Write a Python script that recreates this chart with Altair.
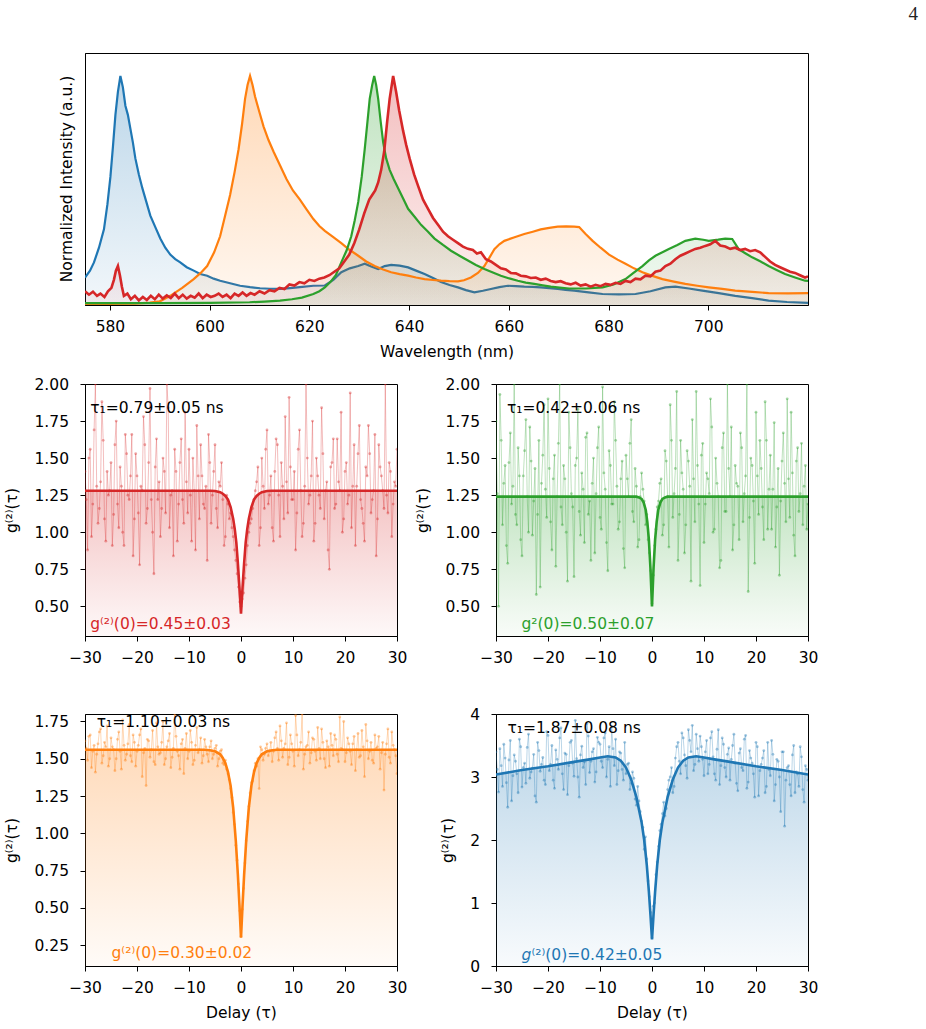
import altair as alt
import pandas as pd

FONT = "DejaVu Sans"
FS = 15.5
BLUE, ORANGE, GREEN, RED = "#1f77b4", "#ff7f0e", "#2ca02c", "#d62728"

# ---------------- emission spectra: (wavelength nm, normalized intensity) ----------------
blue_spec = [
    (575.0, 0.12), (576.0, 0.15), (576.8, 0.186), (577.8, 0.25), (578.8, 0.33), (579.5, 0.44),
    (580.1, 0.56), (580.6, 0.69), (581.1, 0.83), (581.6, 0.93), (582.1, 1.0), (582.6, 0.95),
    (583.1, 0.87), (583.6, 0.83), (584.1, 0.77), (584.6, 0.71), (585.1, 0.64), (585.8, 0.57),
    (586.5, 0.51), (587.3, 0.45), (588.1, 0.39), (589.1, 0.34), (590.1, 0.29), (591.1, 0.25),
    (592.1, 0.22), (593.1, 0.20), (594.1, 0.186), (595.4, 0.165), (596.8, 0.15), (598.1, 0.135),
    (599.5, 0.128), (600.8, 0.115), (602.1, 0.106), (604.1, 0.095), (606.1, 0.084), (608.1, 0.078),
    (610.1, 0.073), (612.1, 0.071), (614.1, 0.07), (616.1, 0.074), (618.1, 0.078), (620.8, 0.084),
    (623.1, 0.085), (624.8, 0.11), (626.4, 0.143), (628.1, 0.16), (629.8, 0.17), (631.1, 0.18),
    (632.4, 0.168), (633.8, 0.157), (635.1, 0.17), (636.4, 0.175), (638.1, 0.172), (639.8, 0.164),
    (641.4, 0.15), (643.1, 0.135), (644.8, 0.118), (646.4, 0.10), (648.1, 0.087), (649.8, 0.077),
    (651.4, 0.065), (653.1, 0.055), (654.8, 0.062), (656.4, 0.07), (658.1, 0.078), (659.8, 0.084),
    (661.4, 0.082), (663.1, 0.08), (664.8, 0.079), (666.4, 0.077), (668.1, 0.074), (669.8, 0.07),
    (671.4, 0.066), (673.1, 0.063), (676.0, 0.055), (678.8, 0.048), (682.1, 0.046), (685.4, 0.048),
    (688.4, 0.06), (691.4, 0.077), (693.4, 0.08), (696.1, 0.072), (698.8, 0.063), (702.1, 0.052),
    (705.4, 0.04), (708.8, 0.03), (712.1, 0.019), (715.8, 0.013), (720.0, 0.009),
]

orange_spec = [
    (575.0, 0.005), (580.0, 0.005), (585.0, 0.006), (588.0, 0.01), (590.0, 0.016), (592.1, 0.04),
    (594.5, 0.075), (596.8, 0.113), (598.2, 0.14), (599.5, 0.17), (600.9, 0.23), (602.1, 0.30),
    (603.1, 0.39), (604.1, 0.48), (605.0, 0.58), (605.8, 0.68), (606.5, 0.79), (607.1, 0.90),
    (607.6, 0.96), (608.1, 1.0), (608.6, 0.96), (609.1, 0.91), (610.0, 0.84), (610.8, 0.78),
    (611.8, 0.72), (612.8, 0.67), (614.1, 0.61), (615.4, 0.55), (616.7, 0.50), (618.1, 0.46),
    (619.5, 0.415), (620.8, 0.375), (622.0, 0.345), (623.1, 0.324), (624.6, 0.30), (626.4, 0.27),
    (628.1, 0.24), (629.8, 0.215), (631.4, 0.19), (633.1, 0.17), (634.8, 0.155), (636.4, 0.143),
    (638.1, 0.135), (639.8, 0.128), (641.4, 0.12), (643.1, 0.113), (644.8, 0.109), (646.4, 0.106),
    (648.1, 0.104), (649.8, 0.103), (651.0, 0.108), (652.4, 0.12), (653.8, 0.14), (655.1, 0.17),
    (656.2, 0.21), (657.1, 0.244), (658.1, 0.265), (659.1, 0.28), (661.0, 0.295), (663.1, 0.31),
    (664.8, 0.32), (666.4, 0.33), (668.1, 0.337), (669.8, 0.342), (671.5, 0.343), (673.1, 0.342),
    (674.1, 0.34), (675.4, 0.31), (676.8, 0.28), (678.4, 0.25), (680.1, 0.22), (681.8, 0.198),
    (683.4, 0.18), (685.1, 0.16), (686.8, 0.143), (688.8, 0.127), (690.8, 0.113), (693.1, 0.102),
    (695.4, 0.092), (697.8, 0.084), (700.1, 0.077), (702.8, 0.07), (705.4, 0.063), (708.8, 0.057),
    (712.1, 0.052), (716.0, 0.051), (720.0, 0.052),
]

green_spec = [
    (575.0, 0.008), (590.0, 0.008), (600.0, 0.009), (608.0, 0.012), (611.0, 0.015), (614.1, 0.019),
    (616.5, 0.025), (618.5, 0.032), (620.8, 0.048), (622.0, 0.06), (623.1, 0.077), (624.2, 0.10),
    (625.3, 0.13), (626.4, 0.186), (627.5, 0.24), (628.4, 0.30), (629.1, 0.37), (629.8, 0.45),
    (630.5, 0.56), (631.1, 0.68), (631.6, 0.79), (632.1, 0.90), (632.6, 0.96), (633.0, 1.0),
    (633.4, 0.96), (633.8, 0.90), (634.3, 0.80), (634.8, 0.71), (635.4, 0.64), (636.1, 0.59),
    (636.9, 0.55), (637.8, 0.51), (638.8, 0.465), (639.8, 0.42), (641.1, 0.385), (642.4, 0.35),
    (643.8, 0.32), (645.1, 0.29), (646.8, 0.262), (648.4, 0.237), (650.1, 0.215), (651.8, 0.194),
    (653.4, 0.175), (655.1, 0.157), (656.8, 0.142), (658.4, 0.128), (660.1, 0.116), (661.8, 0.106),
    (663.4, 0.098), (665.1, 0.092), (666.8, 0.086), (668.4, 0.08), (670.2, 0.076), (672.1, 0.072),
    (675.5, 0.072), (678.8, 0.077), (681.0, 0.09), (683.4, 0.113), (685.0, 0.14), (686.8, 0.17),
    (688.1, 0.195), (689.4, 0.215), (690.8, 0.23), (692.1, 0.244), (693.8, 0.262), (695.4, 0.28),
    (697.4, 0.29), (699.0, 0.285), (700.1, 0.28), (702.0, 0.285), (703.4, 0.29), (704.8, 0.288),
    (706.1, 0.244), (707.5, 0.225), (708.8, 0.208), (710.5, 0.19), (712.1, 0.17), (713.8, 0.152),
    (715.4, 0.135), (717.4, 0.12), (719.4, 0.106), (720.0, 0.105),
]

red_spec = [
    (575.0, 0.06), (575.8, 0.045), (576.6, 0.058), (577.4, 0.04), (578.1, 0.05), (578.9, 0.035),
    (579.6, 0.06), (580.3, 0.075), (580.8, 0.11), (581.2, 0.15), (581.6, 0.17), (582.0, 0.13),
    (582.4, 0.08), (582.8, 0.04), (583.5, 0.05), (584.2, 0.025), (585.0, 0.04), (585.8, 0.02),
    (586.6, 0.035), (587.4, 0.022), (588.2, 0.04), (589.0, 0.025), (589.8, 0.045), (590.6, 0.028),
    (591.4, 0.042), (592.2, 0.03), (593.0, 0.05), (593.8, 0.03), (594.6, 0.045), (595.4, 0.028),
    (596.2, 0.04), (597.0, 0.032), (597.8, 0.05), (598.6, 0.03), (599.4, 0.045), (600.2, 0.035),
    (601.0, 0.04), (601.8, 0.05), (602.6, 0.035), (603.4, 0.045), (604.2, 0.03), (605.0, 0.05),
    (605.8, 0.04), (606.6, 0.055), (607.4, 0.04), (608.2, 0.052), (609.0, 0.045), (610.0, 0.06),
    (611.0, 0.05), (612.0, 0.065), (613.0, 0.06), (614.0, 0.075), (615.0, 0.07), (616.0, 0.09),
    (617.0, 0.085), (618.0, 0.10), (619.0, 0.095), (620.0, 0.11), (621.0, 0.105), (622.0, 0.115),
    (623.0, 0.12), (624.0, 0.13), (625.0, 0.145), (626.0, 0.16), (627.0, 0.19), (628.0, 0.22),
    (629.0, 0.27), (630.0, 0.33), (631.0, 0.40), (632.0, 0.46), (632.6, 0.48), (633.2, 0.50),
    (633.8, 0.535), (634.4, 0.59), (635.0, 0.67), (635.6, 0.80), (636.1, 0.90), (636.8, 1.0),
    (637.4, 0.93), (638.0, 0.85), (638.8, 0.76), (639.4, 0.70), (640.1, 0.64), (641.0, 0.57),
    (641.8, 0.52), (642.8, 0.46), (643.8, 0.42), (644.8, 0.38), (645.8, 0.35), (646.8, 0.32),
    (647.8, 0.30), (648.8, 0.285), (649.8, 0.27), (650.8, 0.255), (651.8, 0.245), (652.8, 0.24),
    (653.6, 0.225), (654.4, 0.23), (655.4, 0.20), (656.4, 0.19), (657.4, 0.175), (658.4, 0.16),
    (659.4, 0.155), (660.4, 0.14), (661.4, 0.138), (662.4, 0.128), (663.4, 0.125), (664.4, 0.118),
    (665.4, 0.12), (666.4, 0.11), (667.4, 0.115), (668.4, 0.105), (669.4, 0.10), (670.4, 0.104),
    (671.4, 0.095), (672.4, 0.09), (673.4, 0.097), (674.4, 0.085), (675.4, 0.09), (676.4, 0.08),
    (677.4, 0.088), (678.4, 0.082), (679.4, 0.092), (680.4, 0.088), (681.4, 0.097), (682.4, 0.092),
    (683.4, 0.105), (684.4, 0.10), (685.4, 0.115), (686.4, 0.112), (687.4, 0.128), (688.4, 0.125),
    (689.4, 0.145), (690.4, 0.15), (691.4, 0.17), (692.4, 0.18), (693.4, 0.20), (694.4, 0.215),
    (695.4, 0.225), (696.4, 0.235), (697.4, 0.245), (698.4, 0.25), (699.4, 0.258), (700.4, 0.265),
    (701.4, 0.28), (702.4, 0.26), (703.4, 0.255), (704.4, 0.245), (705.4, 0.25), (706.4, 0.24),
    (707.4, 0.245), (708.4, 0.235), (709.4, 0.24), (710.4, 0.23), (711.4, 0.21), (712.4, 0.19),
    (713.4, 0.175), (714.4, 0.165), (715.4, 0.155), (716.4, 0.145), (717.4, 0.14), (718.4, 0.13),
    (719.4, 0.12), (720.0, 0.125),
]

# ---------------- second-order correlation histograms ----------------
# bins on the half-nanosecond grid (-30 .. 30) and the bins in between (-29.75 .. 29.75)
DELAY_A = [i * 0.5 - 30 for i in range(121)]
DELAY_B = [i * 0.5 - 29.75 for i in range(120)]

red_g2_a = [
    1.41, 0.88, 1.56, 1.19, 2.00, 1.06, 1.34, 1.62, 0.94, 1.25,
    1.47, 1.12, 1.75, 1.03, 1.31, 0.91, 1.53, 1.22, 1.66, 1.09,
    1.38, 0.78, 1.28, 1.59, 1.16, 1.97, 1.00, 1.44, 1.22, 0.97,
    1.50, 1.13, 1.84, 1.25, 0.84, 1.41, 1.19, 1.63, 1.06, 1.34,
    1.56, 0.94, 1.28, 1.72, 1.09, 1.38, 1.16, 0.81, 1.47, 1.25,
    1.59, 1.03, 1.31, 1.22, 0.97, 1.19, 1.13, 0.97, 0.81, 0.63,
    0.50,
    0.59, 0.78, 1.00, 1.09, 1.22, 1.34, 0.91, 1.50, 1.16, 1.69,
    1.25, 1.03, 1.41, 1.59, 0.97, 1.31, 1.78, 1.13, 1.44, 1.22,
    0.88, 1.56, 1.28, 1.06, 2.00, 1.19, 1.38, 0.94, 1.50, 1.25,
    1.84, 1.09, 1.34, 0.75, 1.47, 1.16, 1.63, 1.28, 1.00, 1.41,
    1.19, 1.94, 1.31, 0.91, 1.53, 1.22, 1.06, 1.44, 1.72, 1.13,
    1.28, 0.84, 1.59, 1.38, 1.16, 1.25, 1.47, 0.97, 1.34, 1.56,
]
red_g2_b = [
    1.22, 1.50, 0.97, 1.69, 1.31, 1.16, 1.88, 1.09, 1.41, 1.28,
    0.91, 1.59, 1.19, 1.44, 1.00, 1.66, 1.25, 1.38, 0.84, 1.53,
    1.13, 1.31, 1.78, 1.06, 1.47, 1.22, 0.72, 1.63, 1.34, 1.16,
    1.41, 2.00, 1.03, 1.28, 1.56, 0.94, 1.47, 1.22, 1.81, 1.13,
    1.25, 1.50, 0.88, 1.38, 1.59, 1.19, 1.31, 1.66, 1.06, 1.41,
    1.16, 1.34, 1.47, 0.91, 1.25, 1.09, 1.03, 0.88, 0.72, 0.53,
    0.55, 0.69, 0.91, 1.06, 1.16, 1.28, 1.44, 1.03, 1.31, 1.56,
    1.19, 1.38, 0.94, 1.63, 1.25, 1.47, 1.09, 1.34, 1.91, 1.22,
    1.41, 1.13, 1.69, 0.97, 1.31, 1.50, 1.25, 1.75, 1.06, 1.38,
    1.16, 1.53, 1.28, 0.88, 1.44, 1.63, 1.19, 1.34, 1.81, 1.09,
    1.47, 1.25, 1.03, 1.59, 1.31, 1.72, 1.16, 0.94, 1.38, 1.53,
    1.22, 1.66, 1.09, 1.44, 1.28, 2.00, 1.13, 1.41, 1.19, 1.31,
]
green_g2_a = [
    1.75, 0.50, 1.62, 1.33, 0.91, 1.47, 1.19, 2.00, 1.05, 1.38,
    0.84, 1.55, 1.24, 1.71, 0.98, 1.43, 1.12, 0.63, 1.52, 1.29,
    1.90, 1.07, 1.36, 0.77, 1.60, 1.17, 1.45, 1.00, 1.81, 1.26,
    0.70, 1.50, 1.14, 1.40, 0.93, 1.67, 1.21, 1.33, 0.86, 1.57,
    1.10, 1.98, 1.29, 0.74, 1.45, 1.19, 1.62, 1.02, 1.36, 0.89,
    1.52, 1.24, 1.76, 1.07, 1.31, 0.95, 1.40, 1.21, 1.12, 0.86,
    0.52,
    0.91, 1.17, 1.33, 0.98, 1.55, 1.24, 1.86, 1.10, 1.43, 0.81,
    1.62, 1.29, 1.05, 1.48, 0.67, 1.36, 1.95, 1.19, 1.52, 0.93,
    1.40, 1.26, 1.71, 1.02, 1.33, 0.76, 1.57, 1.14, 2.00, 1.24,
    0.88, 1.45, 1.31, 1.67, 1.07, 1.38, 0.60, 1.50, 1.21, 1.81,
    1.12, 1.43, 0.95, 1.62, 1.29, 1.02, 1.74, 1.17, 0.71, 1.48,
    1.33, 1.90, 1.10, 1.40, 0.84, 1.57, 1.26, 1.05, 1.45, 1.19,
]
green_g2_b = [
    1.26, 1.93, 1.05, 1.45, 0.79, 1.67, 1.31, 1.12, 1.57, 0.95,
    1.38, 1.76, 1.00, 1.48, 1.21, 0.58, 1.62, 1.33, 1.86, 1.10,
    1.43, 0.88, 1.52, 1.24, 2.00, 1.05, 1.36, 0.67, 1.57, 1.17,
    1.45, 1.83, 0.98, 1.29, 1.64, 1.12, 0.81, 1.50, 1.26, 1.71,
    1.02, 1.40, 0.93, 1.55, 1.19, 1.88, 1.31, 1.07, 1.48, 0.76,
    1.36, 1.60, 1.14, 1.43, 0.90, 1.24, 1.29, 1.05, 0.95, 0.74,
    0.71, 1.02, 1.21, 1.36, 1.05, 1.48, 0.90, 1.62, 1.26, 1.95,
    1.12, 1.40, 0.86, 1.55, 1.31, 1.76, 1.07, 1.45, 0.64, 1.60,
    1.19, 1.36, 1.90, 1.00, 1.50, 1.24, 0.81, 1.67, 1.14, 1.43,
    1.71, 1.05, 1.33, 0.95, 1.57, 1.26, 2.00, 1.10, 1.45, 0.79,
    1.38, 1.62, 1.17, 1.88, 1.02, 1.52, 1.29, 0.90, 1.43, 1.21,
    1.67, 1.07, 1.36, 1.81, 0.98, 1.48, 1.14, 1.60, 1.31, 1.02,
]
orange_g2_a = [
    1.62, 1.49, 1.66, 1.55, 1.41, 1.60, 1.70, 1.52, 1.58, 1.45,
    1.64, 1.56, 1.50, 1.68, 1.43, 1.59, 1.53, 1.73, 1.48, 1.61,
    1.55, 1.66, 1.38, 1.57, 1.63, 1.51, 1.69, 1.46, 1.58, 1.54,
    1.75, 1.50, 1.62, 1.44, 1.57, 1.65, 1.52, 1.60, 1.40, 1.67,
    1.55, 1.61, 1.49, 1.71, 1.56, 1.47, 1.63, 1.53,
    1.58, 1.50, 1.57, 1.45, 1.55, 1.47, 1.49, 1.40, 1.30, 1.14, 0.92, 0.66,
    0.31,
    0.63, 0.95, 1.18, 1.34, 1.42, 1.45, 1.30, 1.56, 1.53, 1.60, 1.55, 1.48,
    1.64, 1.57, 1.72, 1.51, 1.60, 1.46, 1.66, 1.55, 1.79, 1.52,
    1.61, 1.43, 1.58, 1.68, 1.54, 1.63, 1.49, 1.57, 1.70, 1.50,
    1.62, 1.45, 1.59, 1.66, 1.53, 1.78, 1.56, 1.48, 1.64, 1.55,
    1.60, 1.42, 1.67, 1.52, 1.58, 1.73, 1.50, 1.61, 1.47, 1.57,
    1.65, 1.54, 1.29, 1.60, 1.51, 1.68, 1.56, 1.40,
]
orange_g2_b = [
    1.57, 1.65, 1.44, 1.59, 1.53, 1.68, 1.47, 1.61, 1.72, 1.50,
    1.58, 1.42, 1.63, 1.55, 1.76, 1.49, 1.60, 1.52, 1.66, 1.45,
    1.59, 1.70, 1.54, 1.32, 1.62, 1.56, 1.48, 1.74, 1.53, 1.61,
    1.46, 1.58, 1.67, 1.51, 1.80, 1.55, 1.43, 1.63, 1.57, 1.50,
    1.69, 1.46, 1.59, 1.54, 1.64, 1.52, 1.58, 1.48,
    1.62, 1.53, 1.59, 1.50, 1.56, 1.46, 1.43, 1.36, 1.24, 1.06, 0.82, 0.48,
    0.49, 0.80, 1.08, 1.27, 1.35, 1.47, 1.50, 1.58, 1.49, 1.57, 1.52, 1.61,
    1.55, 1.68, 1.49, 1.62, 1.57, 1.74, 1.51, 1.60, 1.45, 1.66,
    1.56, 1.80, 1.53, 1.59, 1.47, 1.64, 1.55, 1.71, 1.50, 1.61,
    1.44, 1.58, 1.67, 1.52, 1.63, 1.48, 1.57, 1.75, 1.54, 1.60,
    1.46, 1.65, 1.56, 1.51, 1.69, 1.38, 1.62, 1.55, 1.49, 1.66,
    1.58, 1.43, 1.61, 1.53, 1.70, 1.47, 1.59, 1.52,
]
blue_g2_a = [
    3.40, 2.76, 3.18, 3.52, 2.91, 3.27, 2.62, 3.35, 3.05, 3.60,
    2.84, 3.22, 3.47, 2.98, 3.14, 2.70, 3.55, 3.09, 3.31, 2.88,
    3.66, 3.20, 2.95, 3.43, 3.12, 3.78, 2.80, 3.36, 3.18, 3.58,
    3.01, 3.29, 2.68, 3.49, 3.24, 3.85, 3.07, 3.40, 2.92, 3.63,
    3.52, 3.15, 3.70, 3.28, 2.85, 3.45, 3.60, 3.10, 3.38, 2.95,
    3.05, 3.22, 2.90, 2.98, 2.55, 2.62, 2.30, 1.85, 1.70, 1.10,
    0.45,
    1.00, 1.65, 2.15, 2.42, 2.38, 2.80, 3.00, 2.75, 3.30, 3.55,
    3.05, 3.62, 3.18, 3.75, 3.40, 3.10, 3.68, 3.25, 3.48, 3.02,
    3.58, 3.20, 3.72, 3.05, 3.44, 2.88, 3.62, 3.15, 3.36, 2.95,
    3.50, 3.22, 2.78, 3.45, 3.10, 3.66, 2.92, 3.30, 3.05, 3.55,
    2.70, 3.20, 3.42, 2.85, 3.12, 3.58, 2.62, 3.28, 3.00, 3.40,
    2.22, 3.15, 2.88, 3.35, 2.75, 3.05, 3.48, 2.80, 3.18, 2.95,
]
blue_g2_b = [
    3.12, 3.45, 2.85, 3.30, 2.52, 3.58, 3.02, 3.25, 2.75, 3.48,
    3.15, 2.90, 3.68, 3.08, 3.36, 2.60, 3.42, 3.20, 2.95, 3.72,
    3.10, 3.50, 2.82, 3.28, 3.62, 3.05, 3.38, 2.72, 3.55, 3.22,
    3.90, 3.00, 3.35, 3.15, 2.88, 3.65, 3.25, 3.45, 3.08, 3.55,
    3.25, 3.62, 3.00, 3.48, 3.80, 3.18, 2.88, 3.40, 3.12, 3.55,
    3.20, 2.80, 3.08, 2.65, 2.85, 2.45, 2.20, 2.05, 1.35, 0.85,
    0.95, 1.45, 1.90, 2.25, 2.60, 2.50, 2.95, 3.15, 2.85, 3.48,
    3.25, 3.70, 3.35, 2.98, 3.58, 3.82, 3.20, 3.45, 3.65, 3.28,
    3.40, 3.05, 3.62, 3.32, 2.95, 3.75, 3.18, 3.52, 3.00, 3.46,
    3.28, 3.68, 2.90, 3.38, 3.15, 3.60, 2.82, 3.42, 3.22, 2.68,
    3.48, 3.10, 3.30, 2.75, 3.55, 3.02, 3.36, 2.88, 3.25, 2.45,
    3.40, 2.95, 3.18, 2.70, 3.50, 3.08, 2.85, 3.32, 2.60, 3.12,
]

# fitted antibunching curves: (delay, g2)
red_fit = [
    (-30, 1.28), (-6, 1.28), (-5, 1.278), (-4, 1.27), (-3.5, 1.26), (-3, 1.245), (-2.5, 1.22),
    (-2, 1.17), (-1.5, 1.09), (-1.2, 1.02), (-0.9, 0.93), (-0.6, 0.79), (-0.3, 0.63), (0, 0.45),
    (0.3, 0.63), (0.6, 0.79), (0.9, 0.93), (1.2, 1.02), (1.5, 1.09), (2, 1.17), (2.5, 1.22),
    (3, 1.245), (3.5, 1.26), (4, 1.27), (5, 1.278), (6, 1.28), (30, 1.28),
]
green_fit = [
    (-30, 1.24), (-3, 1.24), (-2.5, 1.235), (-2, 1.225), (-1.6, 1.20), (-1.2, 1.15), (-0.9, 1.07),
    (-0.6, 0.95), (-0.3, 0.76), (0, 0.50), (0.3, 0.76), (0.6, 0.95), (0.9, 1.07), (1.2, 1.15),
    (1.6, 1.20), (2, 1.225), (2.5, 1.235), (3, 1.24), (30, 1.24),
]
orange_fit = [
    (-30, 1.56), (-7, 1.56), (-6, 1.557), (-5, 1.55), (-4, 1.53), (-3.5, 1.505), (-3, 1.47),
    (-2.5, 1.41), (-2, 1.32), (-1.5, 1.17), (-1, 0.95), (-0.6, 0.72), (-0.3, 0.52), (0, 0.30),
    (0.3, 0.52), (0.6, 0.72), (1, 0.95), (1.5, 1.17), (2, 1.32), (2.5, 1.41), (3, 1.47),
    (3.5, 1.505), (4, 1.53), (5, 1.55), (6, 1.557), (7, 1.56), (30, 1.56),
]
blue_fit = [
    (-30, 3.04), (-25, 3.11), (-20, 3.17), (-15, 3.24), (-12, 3.28), (-10, 3.31), (-8.5, 3.33),
    (-7, 3.31), (-6, 3.26), (-5, 3.15), (-4, 2.96), (-3, 2.68), (-2, 2.28), (-1.5, 2.00),
    (-1, 1.60), (-0.6, 1.18), (-0.3, 0.82), (0, 0.42), (0.3, 0.82), (0.6, 1.18), (1, 1.60),
    (1.5, 2.00), (2, 2.28), (3, 2.68), (4, 2.96), (5, 3.15), (6, 3.26), (7, 3.31), (8.5, 3.33),
    (10, 3.31), (12, 3.28), (15, 3.24), (20, 3.17), (25, 3.11), (30, 3.04),
]

for a, b in [(red_g2_a, red_g2_b), (green_g2_a, green_g2_b),
             (orange_g2_a, orange_g2_b), (blue_g2_a, blue_g2_b)]:
    assert len(a) == len(DELAY_A) and len(b) == len(DELAY_B), (len(a), len(b))

G2_TITLE = "g⁽²⁾(τ)"


def rgba(hexc, a):
    h = hexc.lstrip("#")
    return f"rgba({int(h[0:2], 16)},{int(h[2:4], 16)},{int(h[4:6], 16)},{a})"


def vgrad(hexc, top, bottom):
    return alt.Gradient(
        gradient="linear", x1=0, x2=0, y1=0, y2=1,
        stops=[alt.GradientStop(color=rgba(hexc, top), offset=0),
               alt.GradientStop(color=rgba(hexc, bottom), offset=1)],
    )


# ---------------- spectra panel ----------------
wl_x = alt.X("wl:Q", scale=alt.Scale(domain=[575, 720], nice=False, zero=False, padding=0),
             axis=alt.Axis(values=[580, 600, 620, 640, 660, 680, 700], format="d",
                           title="Wavelength (nm)"))
# the y axis reserves the same room as the g2 panels' axes (kept invisible) so
# that all left plot edges line up; the visible title is drawn as text
int_y = alt.Y("I:Q", scale=alt.Scale(domain=[0, 1.1], nice=False, zero=False, padding=0),
              axis=alt.Axis(values=[0.5], labelExpr="'2.00'", labelOpacity=0, tickOpacity=0,
                            title=G2_TITLE, titleOpacity=0))


def spec_df(pairs):
    return pd.DataFrame(pairs, columns=["wl", "I"])


def spec_area(pairs, color):
    return alt.Chart(spec_df(pairs)).mark_area(color=vgrad(color, 0.3, 0.06), clip=True).encode(x=wl_x, y=int_y)


def spec_line(pairs, color, width=2.2):
    return alt.Chart(spec_df(pairs)).mark_line(color=color, strokeWidth=width, clip=True).encode(x=wl_x, y=int_y)


page_no = alt.Chart(pd.DataFrame({"s": ["4"]})).mark_text(
    font="Liberation Serif", fontSize=19, align="right", baseline="middle", color="#222222"
).encode(text="s:N", x=alt.value(833), y=alt.value(-39))

int_title = alt.Chart(pd.DataFrame({"s": ["Normalized Intensity (a.u.)"]})).mark_text(
    fontSize=FS, angle=270, align="center", baseline="middle", color="black"
).encode(text="s:N", x=alt.value(-18), y=alt.value(126))

spectra = alt.layer(
    spec_area(blue_spec, BLUE), spec_line(blue_spec, BLUE),
    spec_area(orange_spec, ORANGE), spec_area(green_spec, GREEN), spec_area(red_spec, RED),
    spec_line(orange_spec, ORANGE), spec_line(green_spec, GREEN), spec_line(red_spec, RED, 2.6),
    page_no, int_title,
).properties(width=723, height=252)


# ---------------- g2 panels ----------------
def g2_panel(vals_a, vals_b, fit_pts, color, ydom, yticks, yfmt, tau_lbl, tau_xy, g_lbl, g_xy,
             xtitle, italic_g=False):
    data = pd.concat([pd.DataFrame({"t": DELAY_A, "g": vals_a}),
                      pd.DataFrame({"t": DELAY_B, "g": vals_b})]).sort_values("t")
    fit = pd.DataFrame(fit_pts, columns=["t", "g"])
    xenc = alt.X("t:Q", scale=alt.Scale(domain=[-30, 30], nice=False, zero=False, padding=0),
                 axis=alt.Axis(values=[-30, -20, -10, 0, 10, 20, 30], format="d", title=xtitle))
    yenc = alt.Y("g:Q", scale=alt.Scale(domain=ydom, nice=False, zero=False, padding=0),
                 axis=alt.Axis(values=yticks, format=yfmt, title=G2_TITLE))
    fill = alt.Chart(fit).mark_area(color=vgrad(color, 0.28, 0.03), clip=True).encode(
        x=xenc, y=yenc, y2=alt.datum(ydom[0]))
    trace = alt.Chart(data).mark_line(color=color, strokeWidth=1, opacity=0.3, clip=True).encode(x=xenc, y=yenc)
    dots = alt.Chart(data).mark_point(color=color, size=8, filled=True, opacity=0.4, clip=True).encode(x=xenc, y=yenc)
    fitline = alt.Chart(fit).mark_line(color=color, strokeWidth=2.6, clip=True).encode(x=xenc, y=yenc)
    tau = alt.Chart(pd.DataFrame({"t": [tau_xy[0]], "g": [tau_xy[1]], "s": [tau_lbl]})).mark_text(
        align="left", baseline="middle", fontSize=FS, color="black").encode(x=xenc, y=yenc, text="s:N")
    layers = [fill, trace, dots, fitline, tau]
    gdf = pd.DataFrame({"t": [g_xy[0]], "g": [g_xy[1]], "s": [g_lbl]})
    if italic_g:
        layers.append(alt.Chart(pd.DataFrame({"t": [g_xy[0]], "g": [g_xy[1]], "s": ["g"]})).mark_text(
            align="left", baseline="middle", fontSize=FS, fontStyle="italic", color=color
        ).encode(x=xenc, y=yenc, text="s:N"))
        layers.append(alt.Chart(gdf).mark_text(
            align="left", baseline="middle", fontSize=FS, color=color, dx=10
        ).encode(x=xenc, y=yenc, text="s:N"))
    else:
        layers.append(alt.Chart(gdf).mark_text(
            align="left", baseline="middle", fontSize=FS, color=color
        ).encode(x=xenc, y=yenc, text="s:N"))
    return alt.layer(*layers).properties(width=312, height=252)


ticks_mid = [0.5, 0.75, 1.0, 1.25, 1.5, 1.75, 2.0]
p_red = g2_panel(red_g2_a, red_g2_b, red_fit, RED, [0.3, 2.0], ticks_mid, ".2f",
                 "τ₁=0.79±0.05 ns", (-29.0, 1.835), "g⁽²⁾(0)=0.45±0.03", (-29.0, 0.38), None)
p_green = g2_panel(green_g2_a, green_g2_b, green_fit, GREEN, [0.3, 2.0], ticks_mid, ".2f",
                   "τ₁=0.42±0.06 ns", (-27.9, 1.84), "g²(0)=0.50±0.07", (-25.1, 0.38), None)
p_orange = g2_panel(orange_g2_a, orange_g2_b, orange_fit, ORANGE, [0.11, 1.80],
                    [0.25, 0.5, 0.75, 1.0, 1.25, 1.5, 1.75], ".2f",
                    "τ₁=1.10±0.03 ns", (-27.75, 1.743), "g⁽²⁾(0)=0.30±0.02", (-24.9, 0.194), "Delay (τ)")
p_blue = g2_panel(blue_g2_a, blue_g2_b, blue_fit, BLUE, [0, 4], [0, 1, 2, 3, 4], "d",
                  "τ₁=1.87±0.08 ns", (-27.8, 3.78), "⁽²⁾(0)=0.42±0.05", (-25.1, 0.18), "Delay (τ)",
                  italic_g=True)

row1 = alt.hconcat(p_red, p_green, spacing=99, bounds="flush")
row2 = alt.hconcat(p_orange, p_blue, spacing=99, bounds="flush")
g2_block = alt.vconcat(row1, row2, spacing=40)

chart = alt.vconcat(spectra, g2_block, spacing=15).properties(
    padding={"left": 3, "top": 4, "right": 5, "bottom": 5}
).configure_view(
    stroke="black", strokeWidth=1
).configure_axis(
    labelFont=FONT, titleFont=FONT, labelFontSize=FS, titleFontSize=FS, titleFontWeight="normal",
    labelColor="black", titleColor="black", domainColor="black", tickColor="black",
    grid=False, tickSize=5, domainWidth=1, tickWidth=1, labelFlush=False, labelOverlap=False
).configure_axisX(
    labelPadding=9, titlePadding=10
).configure_axisY(
    labelPadding=11.5, titlePadding=14.5
).configure_text(font=FONT)

chart.save("out.html", embed_options={"renderer": "svg", "actions": False})
